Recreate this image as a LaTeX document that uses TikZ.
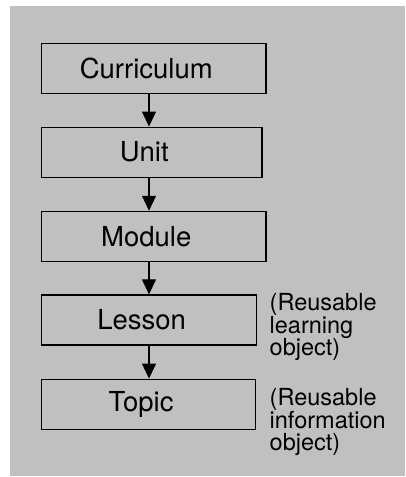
\documentclass[tikz,border=0pt]{standalone}
\usepackage{fontspec}
\setmainfont{TeX Gyre Heros}
\usetikzlibrary{arrows.meta}
\definecolor{bggray}{RGB}{192,192,192}
\begin{document}
\begin{tikzpicture}[x=1pt,y=-1pt,
  box/.style={draw=black,line width=1.3pt,rectangle,inner sep=0pt,
    minimum height=50pt,font=\fontsize{27.5}{33}\selectfont,
    execute at end node={\hspace*{15pt}}},
  arr/.style={line width=1.2pt,-{Triangle[length=15pt,width=14pt]}},
  note/.style={align=left,inner sep=0pt,anchor=base west,
    font=\fontsize{23.5}{22.3}\selectfont}]
\useasboundingbox (0,0) rectangle (405,477);
\fill[bggray] (10,6) rectangle (405,476);
\node[box,minimum width=224.5pt] (cur) at (153.75,68.5) {Curriculum};
\node[box,minimum width=220.5pt] (unit) at (151.75,152.2) {Unit};
\node[box,minimum width=224.5pt] (mod) at (153.75,236.4) {Module};
\node[box,minimum width=215pt] (les) at (149.1,320) {Lesson};
\node[box,minimum width=214pt] (top) at (148.6,404.2) {Topic};
\coordinate (ax) at (149,0);
\draw[arr] (cur.south -| ax) -- (unit.north -| ax);
\draw[arr] (unit.south -| ax) -- (mod.north -| ax);
\draw[arr] (mod.south -| ax) -- (les.north -| ax);
\draw[arr] (les.south -| ax) -- (top.north -| ax);
\node[note] (n1) at (269.5,355.3) {(Reusable\\learning\\object)};
\node[note] (n2) at (269.5,450.3) {(Reusable\\information\\object)};
\end{tikzpicture}
\end{document}
